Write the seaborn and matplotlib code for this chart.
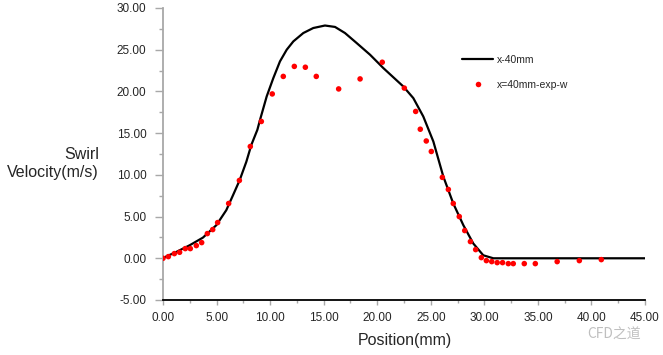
import matplotlib
matplotlib.use("Agg")
import matplotlib.pyplot as plt
import seaborn as sns
import pandas as pd
from matplotlib.ticker import MultipleLocator, FormatStrFormatter
from matplotlib.lines import Line2D

# CFD curve (x-40mm)
sim_x = [0, 1.24, 2.49, 3.73, 4.98, 5.91, 6.54, 7.16, 7.78, 8.25, 8.81, 9.06,
         9.68, 10.30, 10.92, 11.55, 12.17, 13.1, 14.03, 15.12, 16.06, 16.99,
         18.08, 19.33, 20.57, 21.5, 22.43, 23.37, 24.3, 25.24, 26.17, 27.1,
         28.04, 28.97, 29.9, 30.84, 31.5, 45]
sim_y = [0.04, 0.76, 1.56, 2.48, 3.97, 5.77, 7.57, 9.37, 11.57, 13.6, 15.4,
         16.6, 19.4, 21.6, 23.6, 25.0, 26.0, 27.0, 27.6, 27.9, 27.73, 27.0,
         25.8, 24.4, 22.8, 21.7, 20.6, 19.2, 17.0, 14.0, 9.8, 6.57, 3.97,
         1.77, 0.36, 0.0, 0.0, 0.0]

# Experimental points (x=40mm-exp-w)
exp_x = [0.0, 0.5, 1.06, 1.55, 2.08, 2.55, 3.11, 3.61, 4.14, 4.64, 5.1, 6.13,
         7.13, 8.15, 9.18, 10.2, 11.23, 12.26, 13.29, 14.31, 16.4, 18.4, 20.47,
         22.53, 23.59, 24.02, 24.58, 25.05, 26.08, 26.64, 27.1, 27.66, 28.17,
         28.7, 29.19, 29.72, 30.19, 30.69, 31.2, 31.7, 32.24, 32.7, 33.73,
         34.76, 36.8, 38.87, 40.92]
exp_y = [0.0, 0.2, 0.56, 0.72, 1.16, 1.16, 1.52, 1.88, 2.96, 3.44, 4.28, 6.57,
         9.33, 13.4, 16.4, 19.7, 21.8, 23.0, 22.9, 21.8, 20.3, 21.5, 23.5,
         20.4, 17.6, 15.47, 14.06, 12.8, 9.7, 8.25, 6.57, 5.0, 3.32,
         2.0, 1.04, 0.08, -0.28, -0.4, -0.52, -0.52, -0.64, -0.64, -0.64,
         -0.64, -0.4, -0.28, -0.16]

sim = pd.DataFrame({"x": sim_x, "y": sim_y})
exp = pd.DataFrame({"x": exp_x, "y": exp_y})

sns.set_style("white")
plt.rcParams["font.family"] = ["Liberation Sans", "DejaVu Sans"]

fig = plt.figure(figsize=(6.63, 3.55), dpi=100)
ax = fig.add_axes([163/663, 1-300/355, (645-163)/663, (300-8)/355])

sns.lineplot(data=sim, x="x", y="y", ax=ax, color="black", linewidth=1.6,
             estimator=None, sort=False, solid_joinstyle="round")
sns.scatterplot(data=exp, x="x", y="y", ax=ax, color="#ff0000", s=16,
                edgecolor="none", zorder=3)

ax.set_xlim(0, 45)
ax.set_ylim(-5, 30)
ax.xaxis.set_major_locator(MultipleLocator(5))
ax.xaxis.set_minor_locator(MultipleLocator(2.5))
ax.yaxis.set_major_locator(MultipleLocator(5))
ax.yaxis.set_minor_locator(MultipleLocator(2.5))
ax.xaxis.set_major_formatter(FormatStrFormatter("%.2f"))
ax.yaxis.set_major_formatter(FormatStrFormatter("%.2f"))

for s in ["top", "right"]:
    ax.spines[s].set_visible(False)
ax.spines["left"].set_color("#a8a8a8")
ax.spines["left"].set_linewidth(1.3)
ax.spines["bottom"].set_color("black")
ax.spines["bottom"].set_linewidth(1.3)

ax.tick_params(axis="y", which="major", direction="out", length=6, width=1,
               color="#a8a8a8", labelsize=8.5, pad=6, left=True)
ax.tick_params(axis="y", which="minor", direction="out", length=3, width=1,
               color="#a8a8a8", left=True)
ax.tick_params(axis="x", which="major", direction="out", length=3.5, width=1,
               color="#a8a8a8", labelsize=8.5, pad=5, bottom=True)
ax.tick_params(axis="x", which="minor", direction="out", length=2.5, width=1,
               color="#a8a8a8", bottom=True)

ax.set_xlabel("")
ax.set_ylabel("")
fig.text(405/663, 1-340/355, "Position(mm)", ha="center", va="center",
         fontsize=11.5)
fig.text(99/663, 1-163/355, "Swirl\nVelocity(m/s)", ha="right", va="center",
         multialignment="right", fontsize=11.5, linespacing=1.25)

handles = [Line2D([], [], color="black", linewidth=1.6),
           Line2D([], [], color="#ff0000", marker="o", linestyle="none",
                  markersize=4, markeredgecolor="none")]
ax.legend(handles, ["x-40mm", "x=40mm-exp-w"], loc="upper left",
          bbox_to_anchor=(462/663, 1-55/355), bbox_transform=fig.transFigure,
          frameon=False, fontsize=7.5, handlelength=3.0, handletextpad=0.35,
          labelspacing=1.4, borderpad=0, borderaxespad=0)

fig.text(614/663, 1-335/355, "CFD之道", ha="center", va="center",
         fontsize=10, color="#b0b0b0", alpha=0.8,
         family=["Noto Sans CJK SC", "DejaVu Sans"])

fig.savefig("out.png", dpi=100)
